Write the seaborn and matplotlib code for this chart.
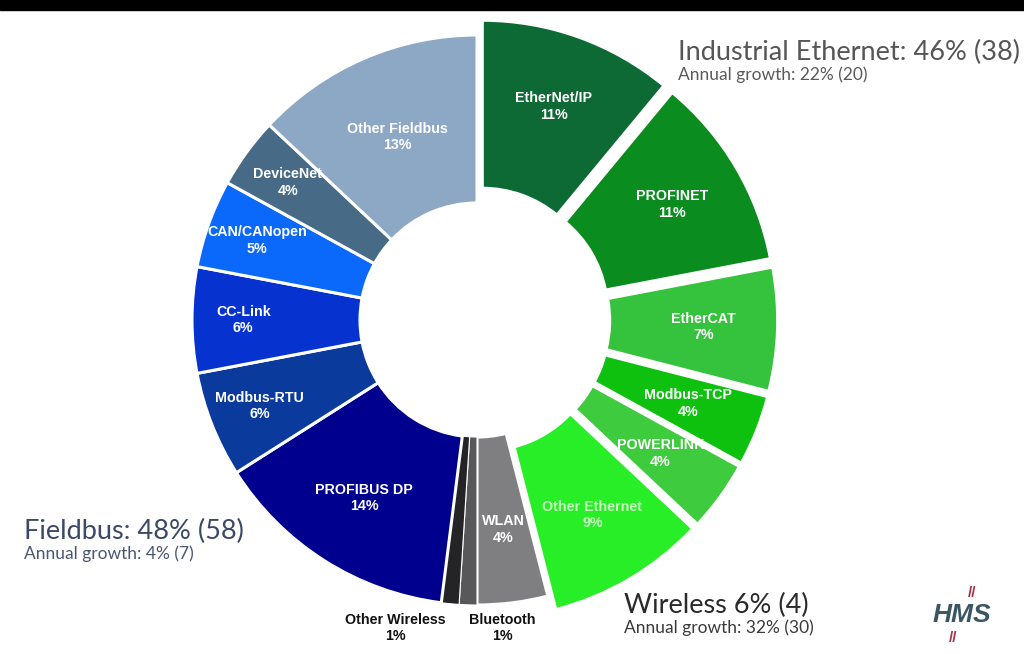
import numpy as np
import matplotlib
matplotlib.use("Agg")
import matplotlib.pyplot as plt
import seaborn as sns
from matplotlib.patches import Rectangle

# ---------------- data ----------------
segments = ["EtherNet/IP", "PROFINET", "EtherCAT", "Modbus-TCP", "POWERLINK", "Other Ethernet",
            "WLAN", "Bluetooth", "Other Wireless",
            "PROFIBUS DP", "Modbus-RTU", "CC-Link", "CAN/CANopen", "DeviceNet", "Other Fieldbus"]
shares = [11, 11, 7, 4, 4, 9,
          4, 1, 1,
          14, 6, 6, 5, 4, 13]
groups = ["Ethernet"] * 6 + ["Wireless"] * 3 + ["Fieldbus"] * 6

group_titles = ["Industrial Ethernet: 46% (38)", "Fieldbus: 48% (58)", "Wireless 6% (4)"]
group_growth = ["Annual growth: 22% (20)", "Annual growth: 4% (7)", "Annual growth: 32% (30)"]

# ---------------- style ----------------
colors = ["#0d6a34", "#0a8c1f", "#35c23c", "#0fc10f", "#3ecb3e", "#27ee27",
          "#7f7f81", "#58585a", "#242426",
          "#00008f", "#0a3a9c", "#0633cf", "#0a68fb", "#476a86", "#8ca8c4"]
text_colors = ["white"] * 5 + ["#c8f7c0"] + ["white"] + ["black"] * 2 + ["white"] * 6
explode = [0.055 if g == "Ethernet" else 0.0 for g in groups]

sns.set_theme(style="white")
plt.rcParams["font.family"] = ["Liberation Sans", "DejaVu Sans"]

W, H = 1024, 654
cx, cy, R = 477, 320, 285
fig = plt.figure(figsize=(W / 100, H / 100), dpi=100)
fig.patch.set_facecolor("white")
ax = fig.add_axes([0, 0, 1, 1])

wedges, _ = ax.pie(shares, colors=colors, startangle=90, counterclock=False,
                   explode=explode, radius=1.0,
                   wedgeprops=dict(width=(R - 117) / R, edgecolor="white", linewidth=2.2))
for w, name in zip(wedges, segments):
    if name in ("Bluetooth", "Other Wireless"):
        w.set_linewidth(0.8)

ax.set_xlim(-cx / R, (W - cx) / R)
ax.set_ylim(-(H - cy) / R, cy / R)
ax.set_aspect("equal")
ax.axis("off")

# wedge labels
for w, name, val, g, tc in zip(wedges, segments, shares, groups, text_colors):
    th = np.deg2rad((w.theta1 + w.theta2) / 2)
    x0, y0 = w.center
    if name in ("Other Wireless", "Bluetooth"):
        continue
    r = 0.74
    if g == "Fieldbus" and name not in ("PROFIBUS DP", "Other Fieldbus"):
        r = 0.82
    if name == "Other Fieldbus":
        r = 0.70
    ax.text(x0 + r * np.cos(th), y0 + r * np.sin(th), f"{name}\n{val}%",
            ha="center", va="center", color=tc, fontsize=10.3, fontweight="bold",
            linespacing=1.25)

# outside labels for small wireless slices
for name, val, xpix in [(segments[8], shares[8], 395), (segments[7], shares[7], 502)]:
    ax.text((xpix - cx) / R, -(628 - cy) / R, f"{name}\n{val}%", ha="center", va="center",
            color="#111111", fontsize=10.3, fontweight="bold", linespacing=1.25)

# group titles
tfont = ["Lato", "DejaVu Sans"]
def px(x, y):
    return x / W, 1 - y / H

fig.text(*px(678, 52), group_titles[0], fontsize=19.5, color="#565656", family=tfont, va="center")
fig.text(*px(678, 75), group_growth[0], fontsize=12.5, color="#5a5a5a", family=tfont, va="center")
fig.text(*px(24, 531), group_titles[1], fontsize=19.5, color="#3b4868", family=tfont, va="center")
fig.text(*px(24, 554), group_growth[1], fontsize=12.5, color="#4a5674", family=tfont, va="center")
fig.text(*px(624, 605), group_titles[2], fontsize=19.5, color="#2a2a2a", family=tfont, va="center")
fig.text(*px(624, 628), group_growth[2], fontsize=12.5, color="#3a3a3a", family=tfont, va="center")

# HMS logo
fig.text(*px(962, 615), "HMS", fontsize=19, fontweight="bold", style="italic",
         color="#3a5563", ha="center", va="center", family=["Liberation Sans"])
fig.text(*px(972, 593), "//", fontsize=11, fontweight="bold", color="#a8324b",
         ha="center", va="center", family=["Liberation Sans"])
fig.text(*px(953, 638), "//", fontsize=11, fontweight="bold", color="#a8324b",
         ha="center", va="center", family=["Liberation Sans"])

# black band at top
fig.patches.append(Rectangle((0, 1 - 10 / H), 1, 10 / H, transform=fig.transFigure,
                             color="black", zorder=10))

fig.savefig("out.png", dpi=100, facecolor="white")
